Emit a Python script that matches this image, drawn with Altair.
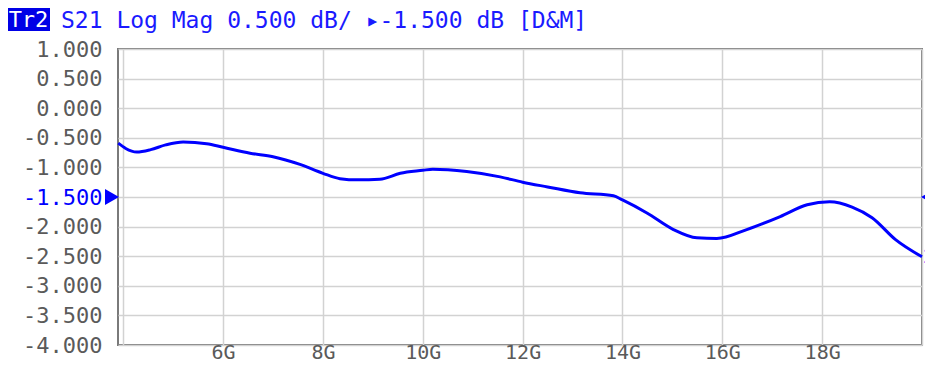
import altair as alt
import pandas as pd

# Trace data (frequency in GHz, S21 in dB)
freq_ghz = [3.90, 4.05, 4.27, 4.55, 4.85, 5.20, 5.67, 6.00, 6.54, 7.00, 7.54, 8.00,
            8.34, 8.70, 9.14, 9.55, 10.00, 10.20, 10.88, 11.55, 12.00, 12.50, 13.15,
            13.82, 14.00, 14.49, 15.02, 15.49, 15.89, 16.49, 17.16, 17.70, 18.15,
            18.60, 19.00, 19.47, 20.00]
s21_db = [-0.59, -0.68, -0.74, -0.70, -0.62, -0.57, -0.60, -0.66, -0.76, -0.82, -0.95, -1.10,
          -1.19, -1.21, -1.20, -1.10, -1.05, -1.03, -1.07, -1.16, -1.25, -1.33, -1.43,
          -1.48, -1.55, -1.77, -2.05, -2.19, -2.20, -2.05, -1.83, -1.63, -1.58,
          -1.67, -1.85, -2.22, -2.51]

y_ticks = [1.0, 0.5, 0.0, -0.5, -1.0, -1.5, -2.0, -2.5, -3.0, -3.5, -4.0]
x_ticks = [4, 6, 8, 10, 12, 14, 16, 18, 20]
ref_level = [-1.5]
trace_name = "Tr2"
header_text = "S21 Log Mag 0.500 dB/ \u25b8-1.500 dB [D&M]"
trace_end_label = "2"

FONT = "DejaVu Sans Mono"
BLUE = "#0000ff"
GRAY = "#5a5a5a"

df = pd.DataFrame({"f": freq_ghz, "v": s21_db})
ref_df = pd.DataFrame({"f": [freq_ghz[0]], "v": ref_level})
end_df = pd.DataFrame({"f": [freq_ghz[-1]], "v": [s21_db[-1]], "t": [trace_end_label]})
one = pd.DataFrame({"a": [0]})

xscale = alt.Scale(domain=[3.895, 20.0], nice=False, zero=False)
yscale = alt.Scale(domain=[-4.0, 1.0], nice=False, zero=False)

x_axis = alt.Axis(values=x_ticks, grid=True, gridColor="#d2d2d2", gridWidth=1.5,
                  ticks=False, domain=False, labelPadding=13, labelBaseline="alphabetic",
                  labelOverlap=False,
                  labelExpr="datum.value >= 6 && datum.value <= 18 ? datum.value + 'G' : ''",
                  labelFont=FONT, labelFontSize=20, labelColor=GRAY)
y_axis = alt.Axis(values=y_ticks, grid=True, gridColor="#d2d2d2", gridWidth=1.5,
                  ticks=False, domain=False, labelPadding=16, labelOverlap=False,
                  labelExpr="replace(format(datum.value, '.3f'), '\u2212', '-')",
                  labelColor={"expr": "datum.value == -1.5 ? '#0000ff' : '#5a5a5a'"},
                  labelFont=FONT, labelFontSize=22, labelBaseline="middle")

X = alt.X("f:Q", scale=xscale, title=None, axis=x_axis)
Y = alt.Y("v:Q", scale=yscale, title=None, axis=y_axis)

line = alt.Chart(df).mark_line(color=BLUE, strokeWidth=3, interpolate="monotone").encode(
    x=X, y=Y)

left_marker = alt.Chart(ref_df).mark_point(shape="triangle-right", filled=True, opacity=1,
                                            color=BLUE, size=260).encode(
    x=alt.value(-6), y=Y)
right_marker = alt.Chart(ref_df).mark_point(shape="triangle-left", filled=True, opacity=1,
                                             color=BLUE, size=260).encode(
    x=alt.value(810), y=Y)

end_label = alt.Chart(end_df).mark_text(align="left", baseline="middle", font=FONT,
                                        fontSize=20, color="#3030ff", dx=1).encode(
    x=X, y=Y, text="t:N")

box = alt.Chart(one).mark_rect(color="#0000e6").encode(
    x=alt.value(-111), x2=alt.value(-68), y=alt.value(-41), y2=alt.value(-18))
box_text = alt.Chart(one).mark_text(align="center", baseline="alphabetic", font=FONT,
                                    fontSize=22, color="white").encode(
    x=alt.value(-89.5), y=alt.value(-22), text=alt.value(trace_name))
header = alt.Chart(one).mark_text(align="left", baseline="alphabetic", font=FONT,
                                  fontSize=23, color="#1a1aff").encode(
    x=alt.value(-57), y=alt.value(-21), text=alt.value(header_text))

chart = alt.layer(line, left_marker, right_marker, end_label, box, box_text, header).properties(
    width=804, height=296,
    autosize=alt.AutoSizeParams(type="none"),
    padding={"left": 110, "top": 41, "right": 3, "bottom": 18},
    background="white",
).configure_view(stroke="#7a7a7a", strokeWidth=2).configure_axis(labelOverlap=False)

chart.save("out.html", embed_options={"renderer": "svg", "actions": False})
